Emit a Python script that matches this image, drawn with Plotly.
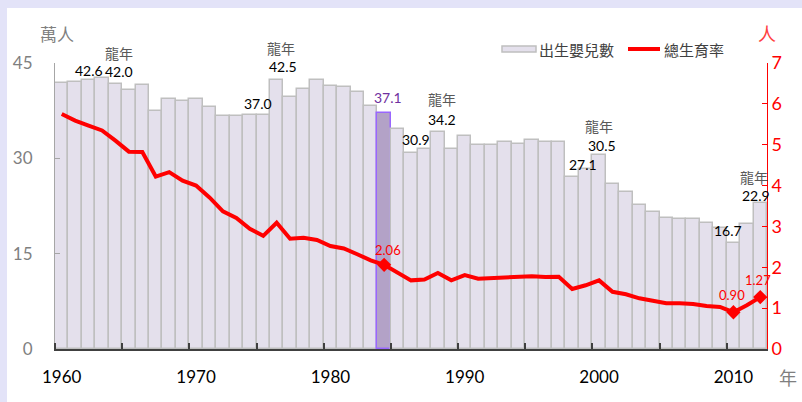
import plotly.graph_objects as go

years = list(range(1960, 2013))
births = [41.9, 42.0, 42.3, 42.6, 41.7, 40.7, 41.5, 37.4, 39.4, 39.1,
          39.4, 38.0, 36.6, 36.7, 36.8, 36.8, 42.3, 39.6, 40.9, 42.4,
          41.4, 41.3, 40.5, 38.3, 37.1, 34.6, 30.9, 31.4, 34.2, 31.5,
          33.5, 32.1, 32.1, 32.5, 32.3, 32.9, 32.5, 32.6, 27.1, 28.3,
          30.5, 26.0, 24.7, 22.7, 21.6, 20.6, 20.4, 20.4, 19.9, 19.1,
          16.7, 19.7, 22.9]
tfr = [5.75, 5.59, 5.47, 5.35, 5.10, 4.83, 4.82, 4.22, 4.33, 4.12,
       4.00, 3.71, 3.37, 3.21, 2.94, 2.77, 3.09, 2.70, 2.72, 2.67,
       2.52, 2.46, 2.32, 2.17, 2.06, 1.88, 1.68, 1.70, 1.86, 1.68,
       1.81, 1.72, 1.73, 1.76, 1.76, 1.78, 1.76, 1.77, 1.47, 1.56,
       1.68, 1.40, 1.34, 1.24, 1.18, 1.12, 1.12, 1.10, 1.05, 1.03,
       0.90, 1.07, 1.27]
x_labels = [1960, 1970, 1980, 1990, 2000, 2010]
left_ticks = [0, 15, 30, 45]
right_ticks = list(range(0, 8))
highlight_year = 1984
marker_years = [1984, 2010, 2012]

# bar labels: (x position in years, y in left-axis units, text, color, size)
bar_labels = [
    (1962.0, 43.8, "42.6", "#000000", 14),
    (1964.3, 46.5, "龍年", "#595959", 14),
    (1964.3, 43.6, "42.0", "#000000", 14),
    (1974.6, 38.6, "37.0", "#000000", 14),
    (1976.3, 47.4, "龍年", "#595959", 14),
    (1976.5, 44.4, "42.5", "#000000", 14),
    (1984.3, 39.6, "37.1", "#7030a0", 14),
    (1988.3, 39.3, "龍年", "#595959", 14),
    (1988.3, 36.1, "34.2", "#000000", 14),
    (1986.4, 32.9, "30.9", "#000000", 14),
    (2000.0, 35.1, "龍年", "#595959", 14),
    (2000.2, 32.0, "30.5", "#000000", 14),
    (1998.8, 29.0, "27.1", "#000000", 14),
    (2009.6, 18.7, "16.7", "#000000", 14),
    (2011.5, 27.1, "龍年", "#595959", 14),
    (2011.7, 24.1, "22.9", "#000000", 14),
]
# line labels (x in years, y in right-axis units)
line_labels = [
    (1984.3, 2.42, "2.06"),
    (2009.9, 1.32, "0.90"),
    (2011.8, 1.69, "1.27"),
]

bar_fill = ["#b3a2c7" if y == highlight_year else "#e4e0ec" for y in years]
bar_edge = ["#9966ff" if y == highlight_year else "#bfbfbf" for y in years]

fig = go.Figure()
fig.add_trace(go.Bar(x=years, y=births, marker=dict(color=bar_fill, line=dict(color=bar_edge, width=1.5)),
                     name="出生嬰兒數", showlegend=False, hoverinfo="x+y"))
fig.add_trace(go.Scatter(x=years, y=tfr, yaxis="y2", mode="lines", line=dict(color="#ff0000", width=4),
                         name="總生育率", showlegend=False))
mk_idx = [years.index(y) for y in marker_years]
fig.add_trace(go.Scatter(x=[years[i] for i in mk_idx], y=[tfr[i] for i in mk_idx], yaxis="y2", mode="markers",
                         marker=dict(symbol="diamond", size=11, color="#ff0000"), showlegend=False))

num_font = "Lato, Open Sans, sans-serif"
cjk_font = "Noto Sans CJK TC, Noto Sans CJK SC, sans-serif"

LEFT_MAX = 45
RIGHT_MAX = 7

annotations = []
for x, y, t, c, s in bar_labels:
    annotations.append(dict(x=x, y=y / LEFT_MAX, xref="x", yref="paper", text=t, showarrow=False,
                            xanchor="center", yanchor="middle",
                            font=dict(color=c, size=s, family=cjk_font if "龍" in t else num_font)))
for x, y, t in line_labels:
    annotations.append(dict(x=x, y=y / RIGHT_MAX, xref="x", yref="paper", text=t, showarrow=False,
                            xanchor="center", yanchor="middle",
                            font=dict(color="#ff0000", size=13, family=num_font)))

W0, W1 = 55, 767
T0, B0 = 63, 349
def px(v):
    return (v - W0) / (W1 - W0)
def py(v):
    return (B0 - v) / (B0 - T0)

annotations += [
    dict(x=px(57), y=py(33), xref="paper", yref="paper", text="萬人", showarrow=False,
         xanchor="center", yanchor="middle", font=dict(color="#7f7f7f", size=17, family=cjk_font)),
    dict(x=px(767), y=py(33), xref="paper", yref="paper", text="人", showarrow=False,
         xanchor="center", yanchor="middle", font=dict(color="#ff4040", size=18, family=cjk_font)),
    dict(x=px(788), y=py(377), xref="paper", yref="paper", text="年", showarrow=False,
         xanchor="center", yanchor="middle", font=dict(color="#7f7f7f", size=18, family=cjk_font)),
    dict(x=px(537), y=py(49), xref="paper", yref="paper", text="出生嬰兒數", showarrow=False,
         xanchor="left", yanchor="middle", font=dict(color="#404040", size=15, family=cjk_font)),
    dict(x=px(662), y=py(49), xref="paper", yref="paper", text="總生育率", showarrow=False,
         xanchor="left", yanchor="middle", font=dict(color="#404040", size=15, family=cjk_font)),
]

shapes = [
    dict(type="rect", xref="paper", yref="paper", x0=px(7), x1=px(805), y0=py(405), y1=py(8),
         fillcolor="#ffffff", line=dict(width=0), layer="below"),
    dict(type="rect", xref="paper", yref="paper", x0=px(502), x1=px(536), y0=py(52), y1=py(46),
         fillcolor="#e4e0ec", line=dict(color="#bfbfbf", width=1.5)),
    dict(type="line", xref="paper", yref="paper", x0=px(628), x1=px(660), y0=py(49), y1=py(49),
         line=dict(color="#ff0000", width=4)),
]

NB = "\u00a0"

fig.update_layout(
    width=802, height=402,
    margin=dict(l=W0, r=802 - W1, t=T0, b=402 - B0),
    paper_bgcolor="#e3e3f8", plot_bgcolor="rgba(0,0,0,0)",
    bargap=0, showlegend=False,
    annotations=annotations, shapes=shapes,
    xaxis=dict(range=[1959.5, 2012.5], tickvals=x_labels, ticks="", showgrid=False, zeroline=False,
               showline=True, linecolor="#404040", linewidth=1.5,
               minor=dict(tickvals=[1959.5 + 5 * k for k in range(11)], ticks="inside", ticklen=6,
                          tickcolor="#404040", tickwidth=1.5, showgrid=False),
               tickfont=dict(color="#000000", size=17, family=num_font), ticklabelstandoff=12),
    yaxis=dict(range=[0, LEFT_MAX], tickvals=left_ticks, showgrid=False, zeroline=False,
               showline=True, linecolor="#a6a6a6", linewidth=1, ticks="inside", ticklen=5,
               tickcolor="#a6a6a6", tickfont=dict(color="#7f7f7f", size=17, family=num_font),
               ticklabelstandoff=18),
    yaxis2=dict(range=[0, RIGHT_MAX], tickvals=right_ticks, overlaying="y", side="right", showgrid=False,
                zeroline=False, showline=True, linecolor="#ff0000", linewidth=1, ticks="inside", ticklen=5,
                tickcolor="#ff0000", tickfont=dict(color="#ff0000", size=18, family=num_font),
                tickprefix=NB * 4),
)

fig.write_html("out.html", config={"displayModeBar": False},
               post_script="document.body.style.margin='0';document.body.style.overflow='hidden';")
